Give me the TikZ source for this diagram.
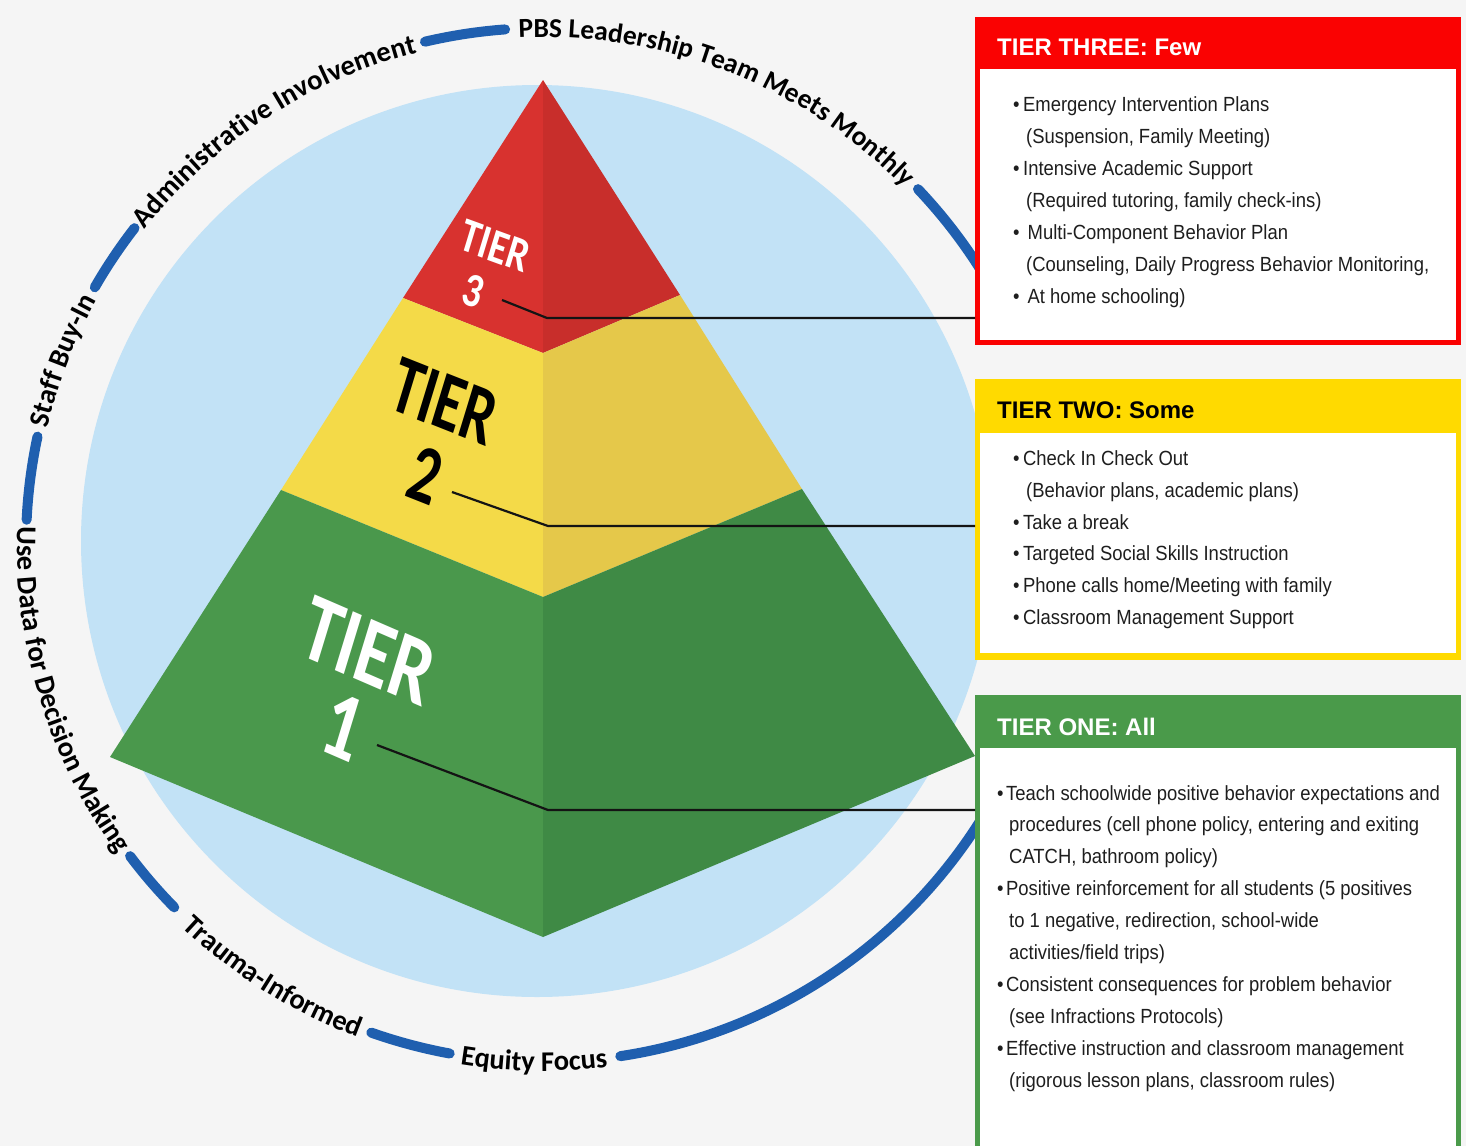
\documentclass[tikz,border=0pt]{standalone}
\usepackage{fontspec}
\setmainfont{Liberation Sans}
\newfontfamily\bodyfont[FakeStretch=0.9]{Liberation Sans}
\newfontfamily\carlito{Carlito}
\usetikzlibrary{decorations.text}
\definecolor{bgc}{RGB}{245,245,245}
\definecolor{circblue}{RGB}{194,226,246}
\definecolor{ringblue}{RGB}{31,95,175}
\definecolor{redL}{RGB}{216,50,47}
\definecolor{redR}{RGB}{200,46,43}
\definecolor{yelL}{RGB}{244,218,72}
\definecolor{yelR}{RGB}{229,200,74}
\definecolor{grnL}{RGB}{74,152,76}
\definecolor{grnR}{RGB}{63,138,69}
\definecolor{hdred}{RGB}{250,2,2}
\definecolor{hdyel}{RGB}{255,218,0}
\definecolor{hdgrn}{RGB}{74,154,74}
\definecolor{bodytext}{RGB}{30,30,30}
\newcommand\ringfont{\carlito\bfseries\fontsize{28.5}{28.5}\selectfont}
\newcommand\ringfonttop{\carlito\bfseries\fontsize{27.5}{27.5}\selectfont}
\begin{document}
\begin{tikzpicture}[x=1pt,y=1pt,
  ringdash/.style={line width=10pt, line cap=round, draw=ringblue},
  leader/.style={line width=2.2pt, draw=black!92},
  body/.style={anchor=base west, inner sep=0pt, text=bodytext, font=\bodyfont\fontsize{20.5}{24}\selectfont},
  head/.style={anchor=base west, inner sep=0pt, font=\bfseries\fontsize{24}{28}\selectfont},
  tierlbl/.style={anchor=base, inner sep=0pt, font=\carlito\bfseries\fontsize{50}{50}\selectfont},
  boxouter/.style={anchor=north west, inner sep=0pt, minimum width=486pt}
]
\useasboundingbox (0,0) rectangle (1466,-1146);
\fill[bgc] (0,0) rectangle (1466,-1146);

% light blue disc
\fill[circblue] (537,-541) circle[radius=456];

% ring dashes
\begin{scope}[shift={(543,-545)}]
  \draw[ringdash] (94.2:517) arc[start angle=94.2, end angle=103.2, radius=517];
  \draw[ringdash] (43.5:517) arc[start angle=43.5, end angle=28, radius=517];
  \draw[ringdash] (142.2:517) arc[start angle=142.2, end angle=150.1, radius=517];
  \draw[ringdash] (167.9:517) arc[start angle=167.9, end angle=177.2, radius=517];
  \draw[ringdash] (217:517) arc[start angle=217, end angle=224.5, radius=517];
  \draw[ringdash] (250.6:517) arc[start angle=250.6, end angle=259.6, radius=517];
  \draw[ringdash] (278.6:517) arc[start angle=278.6, end angle=335, radius=517];
  % ring texts (outward, clockwise)
  \path[decorate, decoration={text along path, text align=center,
      text={|\ringfonttop|PBS Leadership Team Meets Monthly}}]
      (98.7:508) arc[start angle=98.7, end angle=38.7, radius=508];
  \path[decorate, decoration={text along path, text align=center,
      text={|\ringfont|Administrative Involvement}}]
      (148:508) arc[start angle=148, end angle=98, radius=508];
  \path[decorate, decoration={text along path, text align=center,
      text={|\ringfont|Staff Buy-In}}]
      (175:509) arc[start angle=175, end angle=143, radius=509];
  % ring texts (inward, counterclockwise)
  \path[decorate, decoration={text along path, text align=center,
      text={|\ringfont|Use Data for Decision Making}}]
      (172:526) arc[start angle=172, end angle=222, radius=526];
  \path[decorate, decoration={text along path, text align=center,
      text={|\ringfont|Trauma-Informed}}]
      (220:526) arc[start angle=220, end angle=256, radius=526];
  \path[decorate, decoration={text along path, text align=center,
      text={|\ringfont|Equity Focus}}]
      (255:526) arc[start angle=255, end angle=283, radius=526];
\end{scope}

% pyramid coordinates
\coordinate (A)   at (543,-80);
\coordinate (R3L) at (403,-298);
\coordinate (R3F) at (543,-353);
\coordinate (R3R) at (680,-295);
\coordinate (Y2L) at (281,-490);
\coordinate (Y2F) at (543,-597);
\coordinate (Y2R) at (802,-489);
\coordinate (G1L) at (110,-757);
\coordinate (G1F) at (543,-937);
\coordinate (G1R) at (975,-756);

\fill[redL] (A) -- (R3L) -- (R3F) -- cycle;
\fill[redR] (A) -- (R3F) -- (R3R) -- cycle;
\fill[yelL] (R3L) -- (Y2L) -- (Y2F) -- (R3F) -- cycle;
\fill[yelR] (R3F) -- (Y2F) -- (Y2R) -- (R3R) -- cycle;
\fill[grnL] (Y2L) -- (G1L) -- (G1F) -- (Y2F) -- cycle;
\fill[grnR] (Y2F) -- (G1F) -- (G1R) -- (Y2R) -- cycle;

% tier labels
\node[tierlbl, text=white, cm={0.733,-0.267,0.280,0.918,(0,0)}] (t3w) at (491,-261) {TIER};
\node[tierlbl, text=white, cm={0.733,-0.267,0.280,0.918,(0,0)}] (t3n) at (469,-306) {3};
\node[tierlbl, text=black, cm={1.107,-0.438,0.482,1.577,(0,0)}] (t2w) at (436.5,-427) {TIER};
\node[tierlbl, text=black, cm={1.107,-0.438,0.482,1.577,(0,0)}] (t2n) at (418,-501) {2};
\node[tierlbl, text=white, cm={1.395,-0.604,0.555,1.816,(0,0)}] (t1w) at (359.5,-680.5) {TIER};
\node[tierlbl, text=white, cm={1.395,-0.604,0.555,1.816,(0,0)}] (t1n) at (334,-756) {1};

% boxes
\node[boxouter, fill=hdred, minimum height=328pt] (box3) at (975,-17) {};
\fill[white] (980,-69) rectangle (1456,-340);
\node[boxouter, fill=hdyel, minimum height=281pt] (box2) at (975,-379) {};
\fill[white] (980,-433) rectangle (1456,-653);
\node[boxouter, fill=hdgrn, minimum height=451pt] (box1) at (975,-695) {};
\fill[white] (980,-748) rectangle (1456,-1146);

% leader lines
\coordinate (l3s) at (502,-300);
\coordinate (l3b) at (547,-318);
\coordinate (l2s) at (452,-492);
\coordinate (l2b) at (548,-526);
\coordinate (l1s) at (377,-745);
\coordinate (l1b) at (548,-810);
\draw[leader] (l3s) -- (l3b) -- (l3b -| box3.west);
\draw[leader] (l2s) -- (l2b) -- (l2b -| box2.west);
\draw[leader] (l1s) -- (l1b) -- (l1b -| box1.west);

% headers
\node[head, text=white] (h3) at (997,-55) {TIER THREE: Few};
\node[head, text=black] (h2) at (997,-418) {TIER TWO: Some};
\node[head, text=white] (h1) at (997,-735) {TIER ONE: All};

% tier three body
\node[body] (r1) at (1013,-111) {•\hspace{3.5pt}Emergency Intervention Plans};
\node[body] (r2) at (1026,-143) {(Suspension, Family Meeting)};
\node[body] (r3) at (1013,-175) {•\hspace{3.5pt}Intensive Academic Support};
\node[body] (r4) at (1026,-207) {(Required tutoring, family check-ins)};
\node[body] (r5) at (1013,-239) {•\hspace{8pt}Multi-Component Behavior Plan};
\node[body] (r6) at (1026,-271) {(Counseling, Daily Progress Behavior Monitoring,};
\node[body] (r7) at (1013,-303) {•\hspace{8pt}At home schooling)};

% tier two body
\node[body] (y1) at (1013,-465.5) {•\hspace{3.5pt}Check In Check Out};
\node[body] (y2) at (1026,-497.3) {(Behavior plans, academic plans)};
\node[body] (y3) at (1013,-529.1) {•\hspace{3.5pt}Take a break};
\node[body] (y4) at (1013,-560.9) {•\hspace{3.5pt}Targeted Social Skills Instruction};
\node[body] (y5) at (1013,-592.7) {•\hspace{3.5pt}Phone calls home/Meeting with family};
\node[body] (y6) at (1013,-624.5) {•\hspace{3.5pt}Classroom Management Support};

% tier one body
\node[body] (g1) at (997,-800) {•\hspace{2.5pt}Teach schoolwide positive behavior expectations and};
\node[body] (g2) at (1009,-831.9) {procedures (cell phone policy, entering and exiting};
\node[body] (g3) at (1009,-863.8) {CATCH, bathroom policy)};
\node[body] (g4) at (997,-895.7) {•\hspace{2.5pt}Positive reinforcement for all students (5 positives};
\node[body] (g5) at (1009,-927.6) {to 1 negative, redirection, school-wide};
\node[body] (g6) at (1009,-959.5) {activities/field trips)};
\node[body] (g7) at (997,-991.4) {•\hspace{2.5pt}Consistent consequences for problem behavior};
\node[body] (g8) at (1009,-1023.3) {(see Infractions Protocols)};
\node[body] (g9) at (997,-1055.2) {•\hspace{2.5pt}Effective instruction and classroom management};
\node[body] (g10) at (1009,-1087.1) {(rigorous lesson plans, classroom rules)};
\end{tikzpicture}
\end{document}
